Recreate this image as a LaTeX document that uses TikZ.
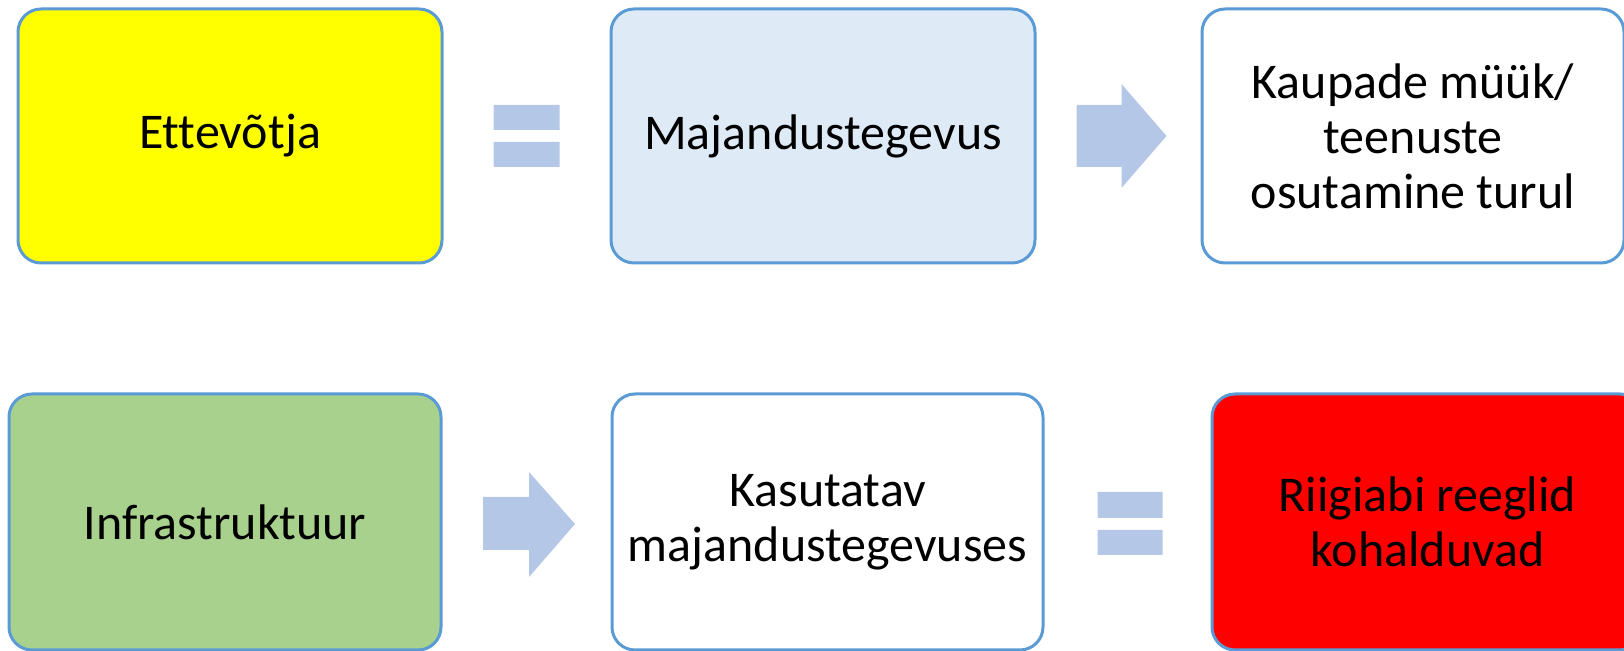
\documentclass[tikz,border=0pt]{standalone}
\usepackage{fontspec}
\setmainfont[Ligatures={NoCommon}]{Carlito}
\usepackage{tikz}
\usetikzlibrary{calc, positioning}

\definecolor{boxline}{HTML}{5B9BD5}
\definecolor{blockfill}{HTML}{B4C7E7}
\definecolor{lightblue}{HTML}{DEEBF7}
\definecolor{grassgreen}{HTML}{A9D18E}
\definecolor{pureyellow}{HTML}{FFFF00}

\tikzset{
  stepbox/.style={draw=boxline, line width=1.5pt, rounded corners=11.5pt, inner sep=0pt,
                  align=center, font=\fontsize{25}{27.5}\selectfont},
  toprow/.style={stepbox, minimum width=212pt, minimum height=127pt},
  botrow/.style={stepbox, minimum width=216pt, minimum height=128pt},
  blockshape/.style={fill=blockfill, draw=none}
}

\begin{document}
\begin{tikzpicture}[x=0.5pt,y=-0.5pt]
\clip (0,0) rectangle (1624,651);
% top row
\draw node [toprow,fill=pureyellow] (E1) at (230,136) {Ettevõtja};
\draw node [toprow,fill=lightblue] (M1) at (823,136) {Majandustegevus};
\draw node [toprow,fill=white,minimum width=211pt] (K1) at (1413,136) {Kaupade müük/\\teenuste\\osutamine turul};
% bottom row
\draw node [botrow,fill=grassgreen] (I2) at (225,522) {Infrastruktuur};
\draw node [botrow,fill=white,minimum width=215.5pt] (K2) at (827.5,522) {Kasutatav\\majandustegevuses};
\draw node [botrow,fill=red,minimum width=215.5pt] (R2) at (1427.5,522) {Riigiabi reeglid\\kohalduvad};
% equal signs and block arrows between the boxes
\coordinate (Q1) at ($(E1.east)!0.5!(M1.west)$);
\coordinate (A1) at ($(M1.east)!0.5!(K1.west)$);
\coordinate (A2) at ($(I2.east)!0.5!(K2.west)$);
\coordinate (Q2) at ($(K2.east)!0.5!(R2.west)$);
\fill [blockshape,shift={(Q1)}] (-33,-31) rectangle (33,-6) (-33,6) rectangle (33,31);
\fill [blockshape,shift={(Q2)}] (-30,-30) rectangle (35,-4) (-30,8) rectangle (35,33);
\fill [blockshape,shift={(A1)}] (-42,-31) -- (3,-31) -- (3,-52) -- (48,0) -- (3,52) -- (3,31) -- (-42,31) -- cycle;
\fill [blockshape,shift={(A2)}] (-43.5,-25) -- (2.5,-25) -- (2.5,-50) -- (48.5,2) -- (2.5,55) -- (2.5,28) -- (-43.5,28) -- cycle;
\end{tikzpicture}
\end{document}
